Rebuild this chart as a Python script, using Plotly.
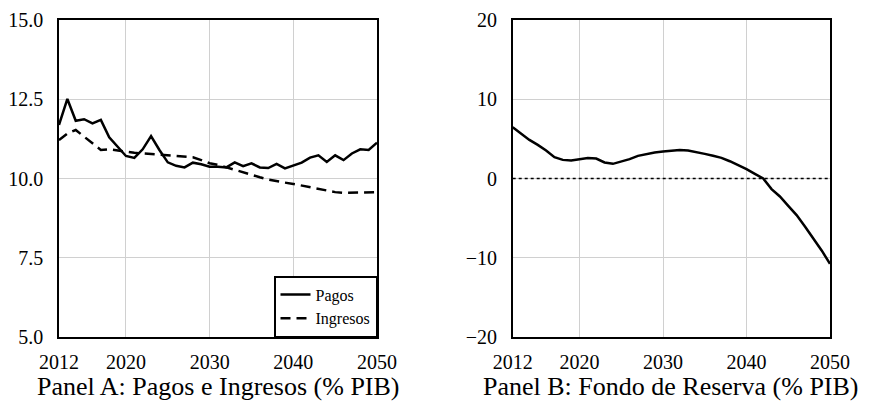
import plotly.graph_objects as go

years = list(range(2012, 2051))

pagos = [11.69, 12.51, 11.82, 11.87, 11.74, 11.85, 11.30, 11.00, 10.71, 10.65,
         10.92, 11.34, 10.90, 10.51, 10.40, 10.35, 10.50, 10.45, 10.37, 10.37,
         10.35, 10.51, 10.39, 10.48, 10.35, 10.33, 10.46, 10.32, 10.42, 10.50,
         10.66, 10.73, 10.52, 10.73, 10.58, 10.79, 10.92, 10.90, 11.13]

ingresos = [11.21, 11.42, 11.53, 11.32, 11.11, 10.90, 10.92, 10.88, 10.85, 10.81,
            10.79, 10.77, 10.74, 10.71, 10.71, 10.69, 10.67, 10.58, 10.48, 10.43,
            10.35, 10.27, 10.18, 10.11, 10.04, 9.97, 9.91, 9.87, 9.83, 9.78,
            9.74, 9.68, 9.62, 9.57, 9.55, 9.55, 9.55, 9.55, 9.57]

fondo = [6.47, 5.63, 4.87, 4.24, 3.53, 2.69, 2.35, 2.27, 2.44, 2.60,
         2.52, 2.02, 1.85, 2.10, 2.44, 2.86, 3.11, 3.28, 3.40, 3.53,
         3.61, 3.53, 3.36, 3.11, 2.86, 2.61, 2.18, 1.72, 1.18, 0.59,
         0.00, -1.34, -2.27, -3.45, -4.62, -6.05, -7.52, -9.08, -10.76]

x_ticks = [2012, 2020, 2030, 2040, 2050]
yA_ticks = [5.0, 7.5, 10.0, 12.5, 15.0]
yB_ticks = [-20, -10, 0, 10, 20]
titles = ["Panel A: Pagos e Ingresos (% PIB)", "Panel B: Fondo de Reserva (% PIB)"]

# page has an 8px body margin; size the figure to fit the 871x402 window
OFF = 8
W, H = 871 - OFF, 402 - OFF
FONT = "Liberation Serif, Times New Roman, serif"


def px_x(v):
    return (v - OFF) / W


def px_y(v):
    return 1 - (v - OFF) / H


xA = [px_x(59), px_x(377)]
xB = [px_x(512.7), px_x(830)]
ydom = [px_y(337), px_y(20)]

fig = go.Figure()
fig.add_trace(go.Scatter(x=years, y=pagos, mode="lines", name="Pagos",
                         line=dict(color="black", width=2.5), xaxis="x", yaxis="y"))
fig.add_trace(go.Scatter(x=years, y=ingresos, mode="lines", name="Ingresos",
                         line=dict(color="black", width=2.5, dash="10px,6px"),
                         xaxis="x", yaxis="y"))
fig.add_trace(go.Scatter(x=years, y=fondo, mode="lines", name="Fondo",
                         line=dict(color="black", width=2.5), showlegend=False,
                         xaxis="x2", yaxis="y2"))

axis_common = dict(showline=True, mirror=True, linecolor="black", linewidth=1.5,
                   showgrid=True, gridcolor="#d0d0d0", gridwidth=1, zeroline=False,
                   automargin=False,
                   ticks="", tickfont=dict(family=FONT, size=20, color="black"))

fig.update_layout(
    width=W, height=H,
    margin=dict(l=0, r=0, t=0, b=0),
    paper_bgcolor="white", plot_bgcolor="white",
    font=dict(family=FONT, color="black"),
    xaxis=dict(domain=xA, range=[2012, 2050], tickvals=x_ticks, anchor="y",
               ticklabelstandoff=6, **axis_common),
    yaxis=dict(domain=ydom, range=[5, 15], tickvals=yA_ticks, tickformat=".1f",
               anchor="x", ticklabelstandoff=10, **axis_common),
    xaxis2=dict(domain=xB, range=[2012, 2050], tickvals=x_ticks, anchor="y2",
                ticklabelstandoff=6, **axis_common),
    yaxis2=dict(domain=ydom, range=[-20, 20], tickvals=yB_ticks, anchor="x2",
                ticklabelstandoff=10, **axis_common),
    legend=dict(x=xA[1], y=ydom[0], xanchor="right", yanchor="bottom",
                bgcolor="white", bordercolor="black", borderwidth=1.5,
                font=dict(family=FONT, size=16, color="black"),
                tracegroupgap=0, itemwidth=30),
    showlegend=True,
)

fig.add_shape(type="line", xref="x2 domain", yref="y2", x0=0, x1=1, y0=0, y1=0,
              line=dict(color="black", width=1.3, dash="dot"))

for dom, t in zip([xA, xB], titles):
    fig.add_annotation(x=(dom[0] + dom[1]) / 2, y=0, xref="paper", yref="paper",
                       text=t, showarrow=False, xanchor="center", yanchor="bottom",
                       borderpad=0,
                       font=dict(family=FONT, size=26, color="black"))

fig.write_html("out.html")
